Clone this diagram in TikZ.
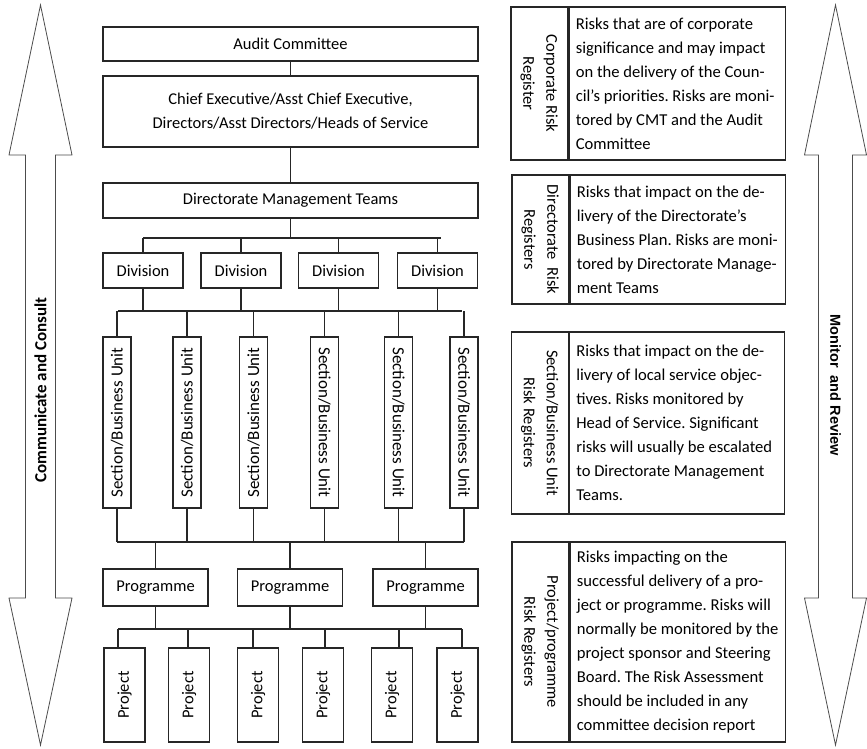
\documentclass[tikz,border=0pt]{standalone}
\usepackage{fontspec}
\setmainfont{Carlito}
\newfontfamily\arialbold{Liberation Sans}[BoldFont={Liberation Sans Bold}]
\begin{document}
\frenchspacing
\begin{tikzpicture}[x=1pt,y=-1pt,
  box/.style={draw=black!85, line width=1.3pt, rectangle, inner sep=0pt, align=center,
    font=\fontsize{16.5}{24}\selectfont},
  link/.style={draw=black!85, line width=1.3pt},
  cell/.style={draw=black!85, line width=1.3pt, rectangle, inner sep=0pt},
  lab/.style={cell, minimum width=57, align=center, font=\fontsize{16.5}{23}\selectfont},
  para/.style={inner sep=0pt, align=left, anchor=west, font=\fontsize{16.6}{24}\selectfont},
  bigarrow/.style={draw=black!70, line width=0.8pt, fill=white}
]
\useasboundingbox (0,0) rectangle (867,748);

% side arrows
\draw[bigarrow] (40.5,5) -- (72,155) -- (55.5,155) -- (55.5,598) -- (72,598) -- (40.5,745)
  -- (9,598) -- (25.5,598) -- (25.5,155) -- (9,155) -- cycle;
\draw[bigarrow] (835.5,5) -- (866.5,155) -- (852.5,155) -- (852.5,598) -- (866.5,598) -- (835.5,745)
  -- (804.5,598) -- (818.5,598) -- (818.5,155) -- (804.5,155) -- cycle;
\node[font=\fontsize{17}{20}\selectfont\bfseries, rotate=90] (comm) at (40.5,390)
  {Communicate and Consult};
\node[font=\fontsize{14.5}{18}\selectfont\arialbold\bfseries, rotate=-90] (mon) at (835.5,385)
  {Monitor\ \ and Review};

% hierarchy
\node[box, minimum width=375, minimum height=34] (audit) at (290.5,44) {Audit Committee};
\node[box, minimum width=375, minimum height=71] (chief) at (290.5,111.5)
  {Chief Executive/Asst Chief Executive,\\Directors/Asst Directors/Heads of Service};
\node[box, minimum width=375, minimum height=35] (dmt) at (290.5,200.5) {Directorate Management Teams};

\foreach \n/\x in {1/143,2/241,3/338.5,4/437.5}
  \node[box, minimum width=80, minimum height=35] (div\n) at (\x,270.5) {Division};

\foreach \n/\x/\r in {1/117/90,2/187/90,3/253.5/90,4/324.5/-90,5/398.5/-90,6/464/-90}
  \node[box, minimum width=28, minimum height=171, font=\fontsize{17}{20}\selectfont]
    (sec\n) at (\x,422.5) {\rotatebox{\r}{Section/Business Unit}};

\foreach \n/\x in {1/155.5,2/290,3/425.5}
  \node[box, minimum width=105, minimum height=37] (prog\n) at (\x,587.5) {Programme};

\foreach \n/\x in {1/124.5,2/189,3/258,4/323,5/392,6/457.5}
  \node[box, minimum width=41, minimum height=94] (proj\n) at (\x,695) {\rotatebox{90}{Project}};

% connectors
\draw[link] (audit) -- (chief);
\draw[link] (chief) -- (dmt);

\coordinate (busA) at (143,238);
\coordinate (busAr) at (441,238);
\draw[link] (busA) -- (busAr);
\draw[link] (dmt.south) -- (dmt.south |- busA);
\foreach \n in {1,...,4}
  \draw[link] (div\n.north) -- (div\n.north |- busA);

\coordinate (busB) at (118,311);
\coordinate (busBr) at (462,311);
\draw[link] (busB) -- (busBr);
\foreach \n in {1,...,4}
  \draw[link] (div\n.south) -- (div\n.south |- busB);
\foreach \n in {1,...,6}
  \draw[link] (sec\n.north) -- (sec\n.north |- busB);

\coordinate (busC) at (117,542);
\coordinate (busCr) at (464,542);
\draw[link] (busC) -- (busCr);
\foreach \n in {1,...,6}
  \draw[link] (sec\n.south) -- (sec\n.south |- busC);
\foreach \n in {1,...,3}
  \draw[link] (prog\n.north) -- (prog\n.north |- busC);

\coordinate (busD) at (118,629);
\coordinate (busDr) at (462,629);
\draw[link] (busD) -- (busDr);
\foreach \n in {1,...,3}
  \draw[link] (prog\n.south) -- (prog\n.south |- busD);
\foreach \n/\x in {1/118,2/188,3/253,4/325,5/399,6/462} {
  \coordinate (dropD\n) at (\x,629);
  \draw[link] (dropD\n) -- (dropD\n |- proj\n.north);
}

% risk register panels
\node[lab, minimum height=153] (corpL) at (539.5,83.5)
  {\rotatebox{-90}{\begin{tabular}{@{}c@{}}Corporate Risk\\Register\end{tabular}}};
\node[cell, minimum width=216, minimum height=153, anchor=west] (corpT) at (corpL.east) {};
\node[para] (corpP) at ([xshift=7pt]corpT.west)
  {Risks that are of corporate\\significance and may impact\\on the delivery of the Coun-\\cil's priorities. Risks are moni-\\tored by CMT and the Audit\\Committee};

\node[lab, minimum height=129] (dirL) at (540.5,239.5)
  {\rotatebox{-90}{\begin{tabular}{@{}c@{}}Directorate\ \ Risk\\Registers\end{tabular}}};
\node[cell, minimum width=215, minimum height=129, anchor=west] (dirT) at (dirL.east) {};
\node[para] (dirP) at ([xshift=7pt]dirT.west)
  {Risks that impact on the de-\\livery of the Directorate's\\Business Plan. Risks are moni-\\tored by Directorate Manage-\\ment Teams};

\node[lab, minimum height=182] (secL) at (540,423)
  {\rotatebox{-90}{\begin{tabular}{@{}c@{}}Section/Business Unit\\Risk Registers\end{tabular}}};
\node[cell, minimum width=215, minimum height=182, anchor=west] (secT) at (secL.east) {};
\node[para] (secP) at ([xshift=7pt]secT.west)
  {Risks that impact on the de-\\livery of local service objec-\\tives. Risks monitored by\\Head of Service. Significant\\risks will usually be escalated\\to Directorate Management\\Teams.};

\node[lab, minimum height=200] (prjL) at (540.5,642)
  {\rotatebox{-90}{\begin{tabular}{@{}c@{}}Project/programme\\Risk Registers\end{tabular}}};
\node[cell, minimum width=215, minimum height=200, anchor=west] (prjT) at (prjL.east) {};
\node[para] (prjP) at ([xshift=7pt]prjT.west)
  {Risks impacting on the\\successful delivery of a pro-\\ject or programme. Risks will\\normally be monitored by the\\project sponsor and Steering\\Board. The Risk Assessment\\should be included in any\\committee decision report};
\end{tikzpicture}
\end{document}
